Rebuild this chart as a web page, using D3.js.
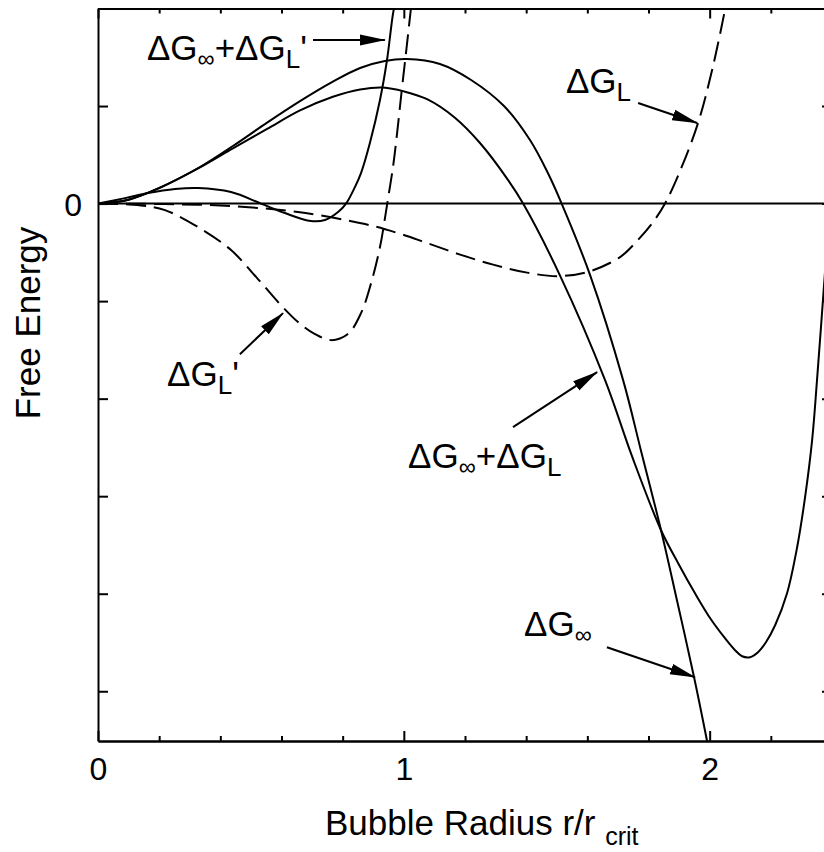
<!DOCTYPE html>
<html>
<head>
<meta charset="utf-8">
<script src="https://cdn.jsdelivr.net/npm/d3@7"></script>
<style>
    body { margin: 0; background: #fff; }
    svg { display: block; font-family: "Liberation Sans", Arial, sans-serif; }
    .axis path, .axis line { stroke: #000; stroke-width: 2; }
    .axis text { font-size: 32px; fill: #000; font-family: "Liberation Sans", Arial, sans-serif; }
    .curve { fill: none; stroke: #000; stroke-width: 2; }
    .dashed { stroke-dasharray: 20, 8; }
    .label { font-size: 35px; fill: #000; }
</style>
</head>
<body>
<div id="chart"></div>
<script>
// Curves: [r/r_crit, free energy]
var dGinf = [[0,0],[0.1,0.04],[0.2,0.16],[0.3335,0.375],[0.441,0.59],[0.553,0.83],[0.6605,1.05],[0.768,1.25],
    [0.857,1.39],[0.938,1.462],[1.01,1.482],[1.118,1.431],[1.22,1.267],[1.3275,1.0],[1.4125,0.651],
    [1.471,0.313],[1.516,0],[1.609,-0.733],[1.717,-1.81],[1.775,-2.528],[1.841,-3.349],[1.893,-4.067],
    [1.949,-4.856],[1.991,-5.503],[2.0,-5.65]];

var dGinfPlusL = [[0,0],[0.1,0.04],[0.2,0.158],[0.3335,0.37],[0.441,0.565],[0.553,0.765],[0.6605,0.955],
    [0.768,1.095],[0.857,1.17],[0.932,1.19],[1.0006,1.15],[1.076,1.07],[1.167,0.88],[1.249,0.621],
    [1.341,0.241],[1.39,0],[1.51,-0.733],[1.658,-1.81],[1.746,-2.59],[1.841,-3.349],[1.897,-3.687],
    [1.952,-3.995],[2.004,-4.262],[2.05,-4.456],[2.083,-4.579],[2.106,-4.641],[2.132,-4.651],
    [2.158,-4.6],[2.184,-4.497],[2.214,-4.323],[2.253,-3.995],[2.286,-3.523],[2.312,-3.01],
    [2.335,-2.426],[2.351,-1.81],[2.38,-0.579]];

var dGL = [[0,0],[0.219,-0.005],[0.435,-0.026],[0.654,-0.087],[0.873,-0.21],[0.981,-0.303],[1.076,-0.405],
    [1.184,-0.523],[1.292,-0.626],[1.403,-0.708],[1.501,-0.744],[1.599,-0.703],[1.707,-0.549],[1.762,-0.385],
    [1.815,-0.19],[1.854,0],[1.903,0.333],[1.962,0.826],[2.008,1.369],[2.05,1.985],[2.06,2.15]];

var dGLprime = [[0,0],[0.1308,-0.015],[0.219,-0.067],[0.327,-0.241],[0.435,-0.477],[0.523,-0.774],[0.598,-1.041],
    [0.654,-1.215],[0.7095,-1.338],[0.762,-1.4],[0.817,-1.338],[0.86,-1.123],[0.893,-0.815],[0.922,-0.446],
    [0.945,-0.015],[0.965,0.385],[0.978,0.723],[0.994,1.185],[1.01,1.626],[1.023,1.995],[1.027,2.1]];

var dGinfPlusLprime = [[0,0],[0.0883,0.056],[0.1635,0.108],[0.252,0.149],[0.327,0.159],[0.435,0.118],[0.533,0],
    [0.611,-0.097],[0.696,-0.179],[0.742,-0.169],[0.785,-0.087],[0.811,0],[0.84,0.169],[0.86,0.313],
    [0.889,0.621],[0.922,1.062],[0.945,1.472],[0.965,1.954],[0.975,2.1]];

var xMajorTicks = [0, 1, 2];
var xMinorTicks = [0.2, 0.4, 0.6, 0.8, 1.2, 1.4, 1.6, 1.8, 2.2];
var yTicks = [-5, -4, -3, -2, -1, 0, 1, 2];

// Labels: text parts ("sub" = subscript), text anchor and arrow in data units
var annotations = [
    { parts: [["ΔG"], ["∞", "sub"], ["+ΔG"], ["L", "subL"], ["'"]], at: [0.160, 1.472], from: [0.703, 1.677], to: [0.938, 1.677] },
    { parts: [["ΔG"], ["L", "subL"]], at: [1.530, 1.133], from: [1.766, 1.031], to: [1.959, 0.826] },
    { parts: [["ΔG"], ["L", "subL"], ["'"]], at: [0.226, -1.872], from: [0.464, -1.544], to: [0.605, -1.123] },
    { parts: [["ΔG"], ["∞", "sub"], ["+ΔG"], ["L", "subL"]], at: [1.014, -2.713], from: [1.357, -2.292], to: [1.632, -1.728] },
    { parts: [["ΔG"], ["∞", "sub"]], at: [1.393, -4.436], from: [1.664, -4.549], to: [1.952, -4.856] }
];

var width = 824, height = 852;
var plot = { left: 98, right: 832, top: 8.5, bottom: 741 };

var svg = d3.select("#chart")
    .append("svg")
    .attr("width", width)
    .attr("height", height);

var x = d3.scaleLinear().domain([0, 2.4]).range([plot.left, plot.right]);
var y = d3.scaleLinear().domain([-5.51, 2]).range([plot.bottom, plot.top]);

var defs = svg.append("defs");
defs.append("clipPath").attr("id", "clip")
    .append("rect")
    .attr("x", plot.left).attr("y", plot.top)
    .attr("width", plot.right - plot.left).attr("height", plot.bottom - plot.top);

defs.append("marker")
    .attr("id", "arrow")
    .attr("markerUnits", "userSpaceOnUse")
    .attr("viewBox", "0 -6 26 12")
    .attr("refX", 25).attr("refY", 0)
    .attr("markerWidth", 26).attr("markerHeight", 12)
    .attr("orient", "auto")
    .append("path")
    .attr("d", "M0,-5.5L26,0L0,5.5Z")
    .attr("fill", "#000");

// Zero line
svg.append("line")
    .attr("x1", x(0)).attr("x2", x(2.4))
    .attr("y1", y(0)).attr("y2", y(0))
    .attr("stroke", "#000").attr("stroke-width", 2);

// Curves
var line = d3.line()
    .x(function(d) { return x(d[0]); })
    .y(function(d) { return y(d[1]); })
    .curve(d3.curveCatmullRom.alpha(0.5));

var curves = svg.append("g").attr("clip-path", "url(#clip)");
[dGinf, dGinfPlusL, dGinfPlusLprime].forEach(function(s) {
    curves.append("path").attr("class", "curve").attr("d", line(s));
});
[dGL, dGLprime].forEach(function(s) {
    curves.append("path").attr("class", "curve dashed").attr("d", line(s));
});

// Axes, ticks pointing inward
svg.append("g").attr("class", "axis")
    .attr("transform", "translate(0," + plot.bottom + ")")
    .call(d3.axisBottom(x).tickValues(xMajorTicks).tickSizeInner(-10).tickSizeOuter(0).tickPadding(16).tickFormat(d3.format("d")));
svg.append("g").attr("class", "axis")
    .attr("transform", "translate(0," + plot.bottom + ")")
    .call(d3.axisBottom(x).tickValues(xMinorTicks).tickSizeInner(-5).tickSizeOuter(0).tickFormat(""));
svg.append("g").attr("class", "axis")
    .attr("transform", "translate(0," + plot.top + ")")
    .call(d3.axisTop(x).tickValues(xMajorTicks).tickSizeInner(-10).tickSizeOuter(0).tickFormat(""));
svg.append("g").attr("class", "axis")
    .attr("transform", "translate(0," + plot.top + ")")
    .call(d3.axisTop(x).tickValues(xMinorTicks).tickSizeInner(-5).tickSizeOuter(0).tickFormat(""));
svg.append("g").attr("class", "axis")
    .attr("transform", "translate(" + plot.left + ",0)")
    .call(d3.axisLeft(y).tickValues(yTicks).tickSizeInner(-10).tickSizeOuter(0).tickPadding(16)
        .tickFormat(function(d) { return d === 0 ? "0" : ""; }))
    .selectAll("text").attr("dy", "0.38em");
svg.append("g").attr("class", "axis")
    .attr("transform", "translate(" + plot.right + ",0)")
    .call(d3.axisRight(y).tickValues(yTicks).tickSizeInner(-10).tickSizeOuter(0).tickFormat(""));

// Axis titles
var xTitle = svg.append("text").attr("class", "label")
    .attr("x", 325).attr("y", 835);
xTitle.append("tspan").text("Bubble Radius r/r ");
xTitle.append("tspan").attr("font-size", 25).attr("dy", 10).text("crit");

svg.append("text").attr("class", "label")
    .attr("transform", "translate(40,323) rotate(-90)")
    .attr("text-anchor", "middle")
    .text("Free Energy");

// Curve labels with arrows
annotations.forEach(function(a) {
    var t = svg.append("text").attr("class", "label")
        .attr("x", x(a.at[0])).attr("y", y(a.at[1]));
    var shift = 0;
    a.parts.forEach(function(p) {
        var target = p[1] === "sub" ? 7 : (p[1] === "subL" ? 8 : 0);
        var size = p[1] === "sub" ? 24 : (p[1] === "subL" ? 26 : 35);
        t.append("tspan").attr("dy", target - shift).attr("font-size", size).text(p[0]);
        shift = target;
    });
    svg.append("line")
        .attr("x1", x(a.from[0])).attr("y1", y(a.from[1]))
        .attr("x2", x(a.to[0])).attr("y2", y(a.to[1]))
        .attr("stroke", "#000").attr("stroke-width", 2)
        .attr("marker-end", "url(#arrow)");
});
</script>
</body>
</html>
